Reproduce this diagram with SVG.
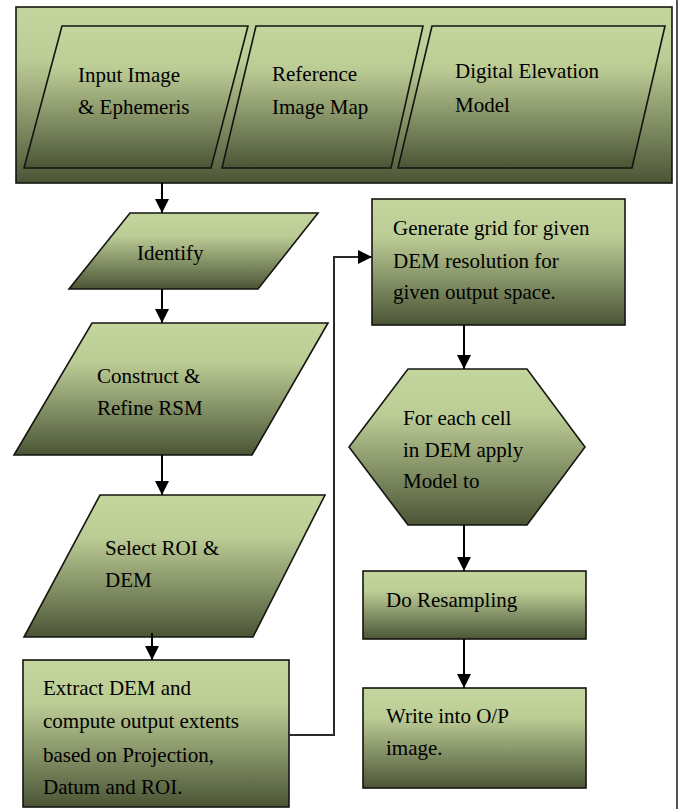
<svg xmlns="http://www.w3.org/2000/svg" width="681" height="809" viewBox="0 0 681 809">
<defs>
<linearGradient id="g" x1="0" y1="0" x2="0" y2="1">
<stop offset="0" stop-color="#c5d59e"/>
<stop offset="0.3" stop-color="#bccc95"/>
<stop offset="1" stop-color="#4b5536"/>
</linearGradient>
<marker id="ah" markerUnits="userSpaceOnUse" markerWidth="16" markerHeight="16" viewBox="0 0 16 16" refX="14" refY="8" orient="auto">
<path d="M0,1 L14,8 L0,15 Z" fill="#000"/>
</marker>
</defs>
<rect width="681" height="809" fill="#fff"/>
<line x1="677" y1="0" x2="677" y2="809" stroke="#555" stroke-width="2"/>
<g id="header"><rect x="16" y="7" width="656" height="176" fill="url(#g)" stroke="#151510" stroke-width="1.6"/></g>
<g id="input"><polygon points="62,26 248,26 211,168 24,168" fill="url(#g)" stroke="#151510" stroke-width="1.6"/></g>
<g id="reference"><polygon points="256,26 423,26 391,168 222,168" fill="url(#g)" stroke="#151510" stroke-width="1.6"/></g>
<g id="dem"><polygon points="432,26 665,26 632,168 398,168" fill="url(#g)" stroke="#151510" stroke-width="1.6"/></g>
<g id="identify"><polygon points="130,213 318,213 258,289 69,289" fill="url(#g)" stroke="#151510" stroke-width="1.6"/></g>
<g id="construct"><polygon points="92,323 328,323 252,455 14,455" fill="url(#g)" stroke="#151510" stroke-width="1.6"/></g>
<g id="select"><polygon points="100,495 325,495 253,637 24,637" fill="url(#g)" stroke="#151510" stroke-width="1.6"/></g>
<g id="extract"><rect x="23" y="660" width="266" height="147" fill="url(#g)" stroke="#151510" stroke-width="1.6"/></g>
<g id="generate"><rect x="372" y="199" width="253" height="126" fill="url(#g)" stroke="#151510" stroke-width="1.6"/></g>
<g id="foreach"><polygon points="408,369 527,369 585,447 527,525 408,525 349,447" fill="url(#g)" stroke="#151510" stroke-width="1.6"/></g>
<g id="resample"><rect x="363" y="571" width="223" height="68" fill="url(#g)" stroke="#151510" stroke-width="1.6"/></g>
<g id="write"><rect x="363" y="688" width="223" height="100" fill="url(#g)" stroke="#151510" stroke-width="1.6"/></g>
<text x="78" y="82" font-size="21" font-family="Liberation Serif">Input Image</text>
<text x="78" y="114" font-size="21" font-family="Liberation Serif">&amp; Ephemeris</text>
<text x="272" y="81" font-size="21" font-family="Liberation Serif">Reference</text>
<text x="272" y="114" font-size="21" font-family="Liberation Serif">Image Map</text>
<text x="455" y="78" font-size="21" font-family="Liberation Serif">Digital Elevation</text>
<text x="455" y="112" font-size="21" font-family="Liberation Serif">Model</text>
<text x="137" y="260" font-size="21" font-family="Liberation Serif">Identify</text>
<text x="97" y="383" font-size="21" font-family="Liberation Serif">Construct &amp;</text>
<text x="97" y="415" font-size="21" font-family="Liberation Serif">Refine RSM</text>
<text x="105" y="555" font-size="21" font-family="Liberation Serif">Select ROI &amp;</text>
<text x="105" y="587" font-size="21" font-family="Liberation Serif">DEM</text>
<text x="43" y="695" font-size="21" font-family="Liberation Serif">Extract DEM and</text>
<text x="43" y="728" font-size="21" font-family="Liberation Serif">compute output extents</text>
<text x="43" y="762" font-size="21" font-family="Liberation Serif">based on Projection,</text>
<text x="43" y="794" font-size="21" font-family="Liberation Serif">Datum and ROI.</text>
<text x="393" y="235" font-size="21" font-family="Liberation Serif">Generate grid for given</text>
<text x="393" y="268" font-size="21" font-family="Liberation Serif">DEM resolution for</text>
<text x="393" y="299" font-size="21" font-family="Liberation Serif">given output space.</text>
<text x="403" y="425" font-size="21" font-family="Liberation Serif">For each cell</text>
<text x="403" y="457" font-size="21" font-family="Liberation Serif">in DEM apply</text>
<text x="403" y="488" font-size="21" font-family="Liberation Serif">Model to</text>
<text x="386" y="607" font-size="21" font-family="Liberation Serif">Do Resampling</text>
<text x="386" y="723" font-size="21" font-family="Liberation Serif">Write into O/P</text>
<text x="386" y="755" font-size="21" font-family="Liberation Serif">image.</text>
<g id="connectors" fill="none" stroke="#000" stroke-width="2" marker-end="url(#ah)">
<line x1="162" y1="183" x2="162" y2="213"/>
<line x1="162" y1="289" x2="162" y2="323"/>
<line x1="162" y1="455" x2="162" y2="495"/>
<line x1="152" y1="633" x2="152" y2="660"/>
<polyline points="289,735 334,735 334,257 372,257" stroke="#2a2a2a"/>
<line x1="464" y1="325" x2="464" y2="369"/>
<line x1="464" y1="525" x2="464" y2="571"/>
<line x1="464" y1="639" x2="464" y2="688"/>
</g>
</svg>
